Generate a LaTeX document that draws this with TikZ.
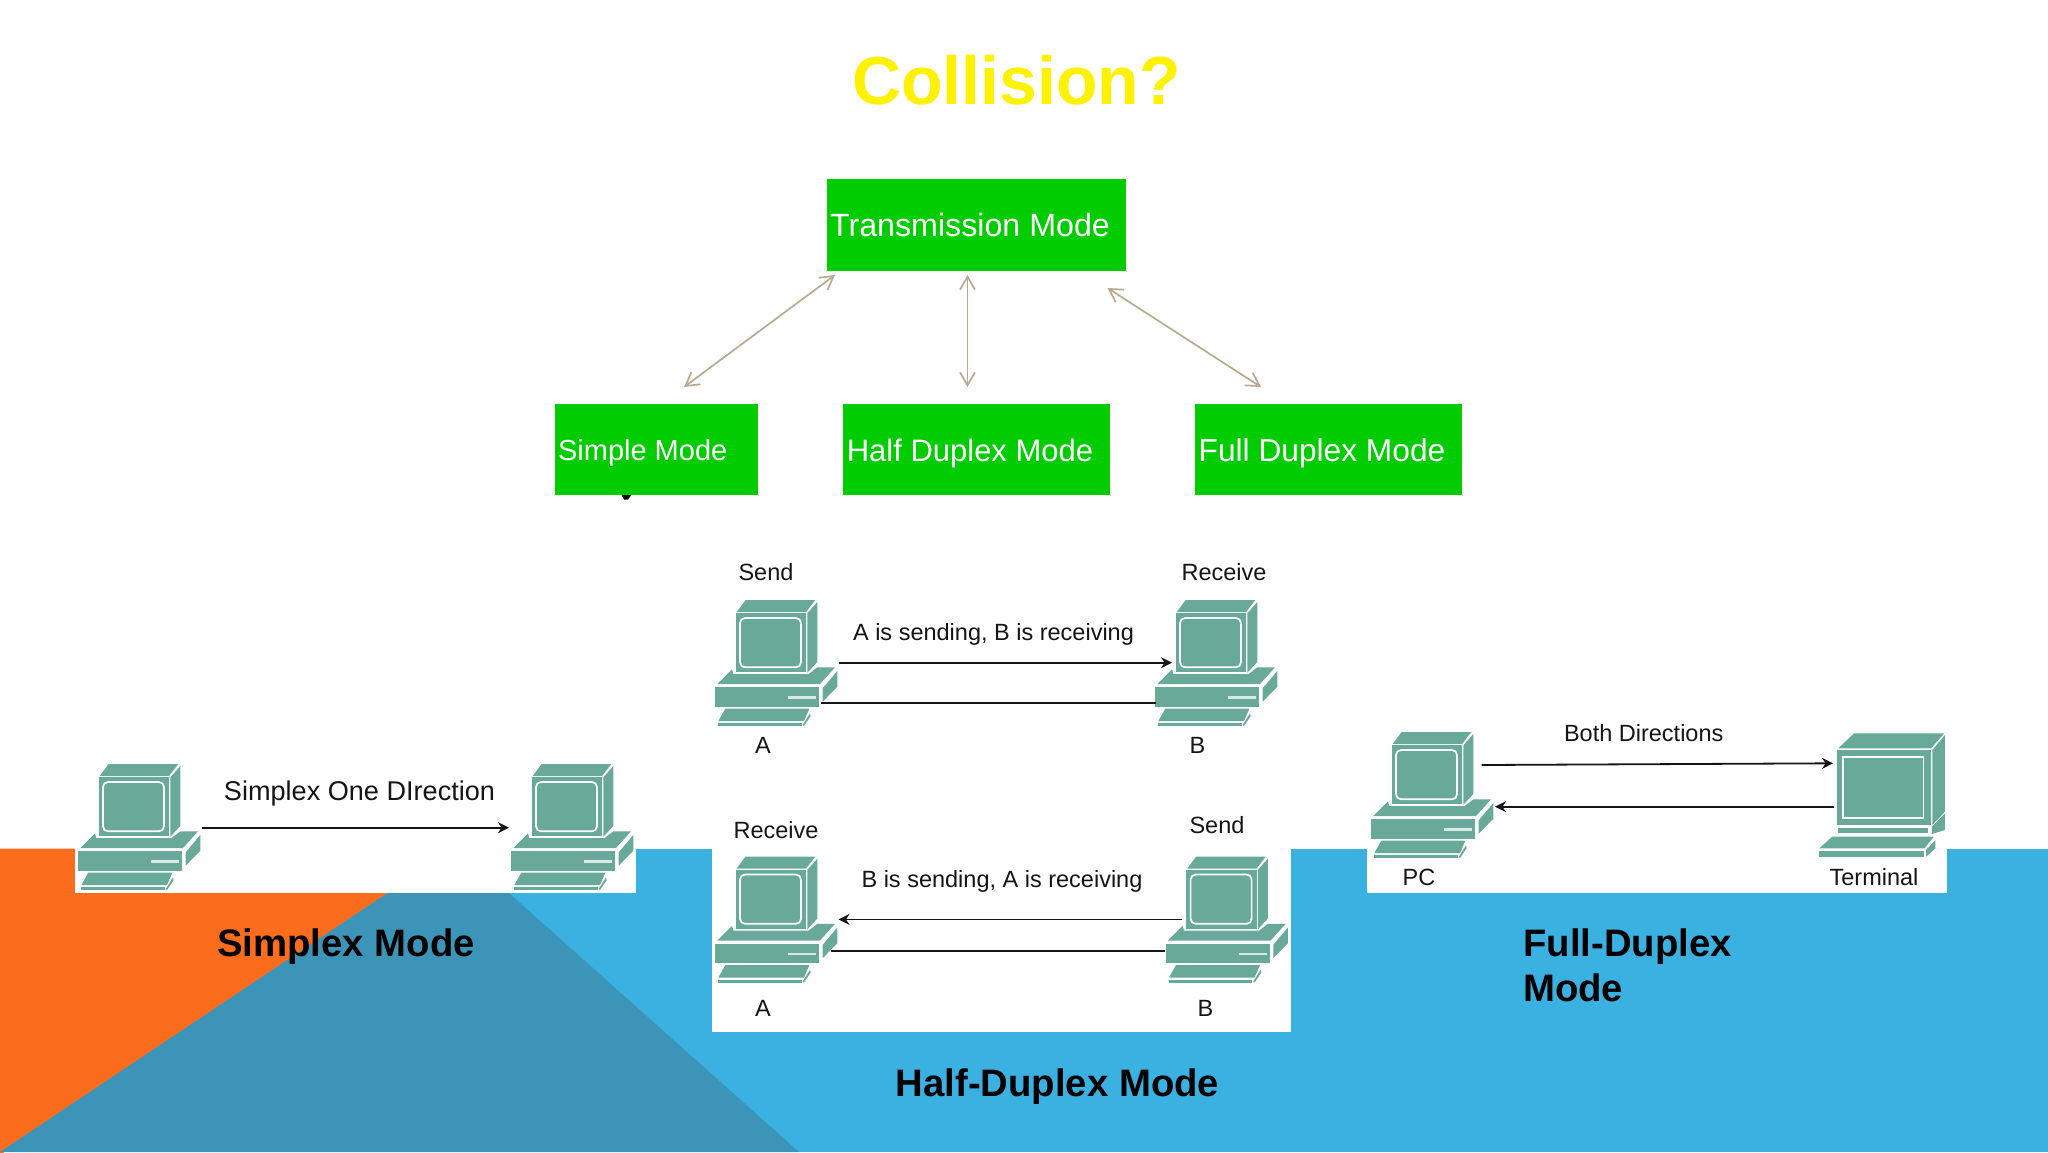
\documentclass[tikz,border=0pt]{standalone}
\usepackage{fontspec}
\setmainfont{Liberation Sans}
\usetikzlibrary{arrows.meta}
\definecolor{mgreen}{HTML}{00CC00}
\definecolor{pcteal}{HTML}{68A99A}
\definecolor{tanline}{HTML}{B8AA92}
\definecolor{skyb}{HTML}{3AB1E1}
\definecolor{darkb}{HTML}{3C95B8}
\definecolor{orng}{HTML}{FB6C1C}
\definecolor{ink}{HTML}{151515}
\tikzset{
  modebox/.style={fill=mgreen,draw=none,inner sep=0pt,text=white},
  lbl/.style={text=ink,inner sep=0pt,font=\fontsize{23.5}{28}\selectfont},
  head/.style={text=black,inner sep=0pt,font=\bfseries\fontsize{38.3}{45}\selectfont},
  tanarrow/.style={draw=tanline,line width=1.7pt,{Straight Barb[length=13pt,width=15pt]}-{Straight Barb[length=13pt,width=15pt]}},
  link/.style={draw=ink,line width=1.8pt},
  linkarrow/.style={link,-{Stealth[length=11pt,width=11pt]}},
  hull/.style={inner sep=0pt,minimum width=122pt,minimum height=126pt}
}
\newcommand{\drawpc}[3]{%
  \begin{scope}[shift={(#2,#3)},x=0.33333pt,y=-0.33333pt]
    \fill[pcteal] (110,66)--(137,30)--(346,30)--(318,66)--cycle;
    \fill[pcteal] (322,70)--(352,36)--(352,216)--(322,248)--cycle;
    \fill[pcteal] (107,70) rectangle (318,246);
    \draw[white,line width=1.7pt,rounded corners=5pt] (120,84) rectangle (303,232);
    \fill[pcteal] (52,282)--(96,238)--(100,252)--(326,252)--(352,232)--(405,232)--(360,282)--cycle;
    \fill[pcteal] (368,295)--(412,243)--(412,290)--(368,335)--cycle;
    \fill[pcteal] (45,292) rectangle (358,350);
    \fill[white!75!pcteal] (265,318) rectangle (348,326);
    \fill[pcteal] (55,393)--(76,356)--(328,356)--(312,393)--cycle;
    \fill[pcteal] (55,400) rectangle (305,408);
    \fill[pcteal] (308,405)--(330,370)--(332,378)--(312,408)--cycle;
  \end{scope}
  \node[hull] (#1) at (#2+76,#3+73) {};%
}
\begin{document}
\begin{tikzpicture}[x=1pt,y=-1pt]
\useasboundingbox (0,0) rectangle (2048,1152);
% slide background
\fill[white] (0,0) rectangle (2048,1152);
\fill[skyb] (0,848.5) rectangle (2048,1152);
\fill[orng] (0,848.5)--(454,848.5)--(0,1155)--cycle;
\fill[darkb] (454,848.5)--(459,848.5)--(799,1152)--(0,1152)--cycle;
% white image panels
\fill[white] (74.6,840) rectangle (636,892.7);
\fill[white] (711.5,840) rectangle (1291,1032);
\fill[white] (1367,840) rectangle (1947,892.7);
% title
\node[inner sep=0pt,text=yellow,font=\bfseries\fontsize{68}{75}\selectfont] (title) at (1016.5,80) {Collision?};
% mode tree
\fill[black] (621,494) -- (632,494) -- (628,499.5) -- (624,499.5) -- cycle;
\node[modebox,minimum width=299pt,minimum height=91.5pt] (tm) at (976.5,225.2) {};
\node[modebox,minimum width=203pt,minimum height=90.7pt] (sm) at (656.5,449.3) {};
\node[modebox,minimum width=267pt,minimum height=90.7pt] (hm) at (976,449.3) {};
\node[modebox,minimum width=267pt,minimum height=90.7pt] (fm) at (1328,449.3) {};
\node[inner sep=0pt,text=white,font=\fontsize{32.2}{36}\selectfont] (tmt) at (970,225) {Transmission Mode};
\node[inner sep=0pt,text=white,font=\fontsize{29}{36}\selectfont] (smt) at (642.7,453) {Simple Mode};
\node[inner sep=0pt,text=white,font=\fontsize{31}{36}\selectfont] (hmt) at (970,453.5) {Half Duplex Mode};
\node[inner sep=0pt,text=white,font=\fontsize{31.7}{36}\selectfont] (fmt) at (1322,453.5) {Full Duplex Mode};
\coordinate (t1) at (835,275);
\coordinate (s1) at (684,387);
\coordinate (t2) at (967.5,275);
\coordinate (h2) at (967.5,387);
\coordinate (t3) at (1107.5,288);
\coordinate (f3) at (1261,387);
\draw[tanarrow] (t1) -- (s1);
\draw[tanarrow] (t2) -- (h2);
\draw[tanarrow] (t3) -- (f3);
% half duplex, upper
\drawpc{pcAu}{700}{590}
\drawpc{pcBu}{1140}{590}
\node[lbl] (sendA) at (766,572) {Send};
\node[lbl] (recvB) at (1224,572) {Receive};
\node[lbl] (abTxt) at (993.5,634.5) {A is sending, B is receiving};
\node[lbl] (labAu) at (763,745.5) {A};
\node[lbl] (labBu) at (1197.5,745.5) {B};
\coordinate (au1) at (838.5,662.7);
\coordinate (bu1) at (1172,662.7);
\coordinate (au2) at (821,702.7);
\coordinate (bu2) at (1156,702.7);
\draw[linkarrow] (au1) -- (bu1);
\draw[link] (au2) -- (bu2);
% half duplex, lower
\drawpc{pcAl}{700}{846.5}
\drawpc{pcBl}{1150.6}{846.5}
\node[lbl] (recvA) at (776,830.5) {Receive};
\node[lbl] (sendB) at (1217,825) {Send};
\node[lbl] (baTxt) at (1002,881.5) {B is sending, A is receiving};
\node[lbl] (labAl) at (763,1008) {A};
\node[lbl] (labBl) at (1205.5,1008) {B};
\coordinate (bl1) at (1182,919.4);
\coordinate (al1) at (838.5,919.4);
\coordinate (al2) at (830.6,951);
\coordinate (bl2) at (1165,951);
\draw[linkarrow] (bl1) -- (al1);
\draw[link] (al2) -- (bl2);
\node[head] (hdHalf) at (1057.5,1087) {Half-Duplex Mode};
% simplex
\drawpc{pcSa}{63}{754}
\drawpc{pcSb}{496}{754}
\node[lbl,font=\fontsize{27.1}{30}\selectfont] (simTxt) at (359.5,793) {Simplex One DIrection};
\coordinate (sa) at (202,827.7);
\coordinate (sb) at (509,827.7);
\draw[linkarrow] (sa) -- (sb);
\node[head] (hdSimp) at (346,947) {Simplex Mode};
% full duplex
\drawpc{pcF}{1356}{722}
\begin{scope}[shift={(1340,700)},x=0.3954pt,y=-0.33333pt]
  \fill[pcteal] (1260,145)--(1300,100)--(1528,100)--(1495,145)--cycle;
  \fill[pcteal] (1498,150)--(1530,105)--(1530,335)--(1498,375)--cycle;
  \fill[pcteal] (1258,150) rectangle (1495,375);
  \draw[white,line width=1.7pt] (1272,172) rectangle (1476,354);
  \fill[pcteal] (1260,385) rectangle (1487,400);
  \fill[pcteal] (1497,380)--(1530,340)--(1530,390)--(1497,402)--cycle;
  \fill[pcteal] (1212,445)--(1245,410)--(1502,410)--(1478,445)--cycle;
  \fill[pcteal] (1212,452) rectangle (1476,472);
  \fill[pcteal] (1482,450)--(1506,420)--(1506,445)--(1482,470)--cycle;
\end{scope}
\node[inner sep=0pt,minimum width=126pt,minimum height=126pt] (term) at (1885,795) {};
\node[lbl] (bothTxt) at (1643.7,733) {Both Directions};
\node[lbl] (labPC) at (1419,877) {PC};
\node[lbl] (labTm) at (1874,877) {Terminal};
\coordinate (f1a) at (1481.6,765);
\coordinate (f1b) at (1833,763.3);
\coordinate (f2a) at (1834,806.7);
\coordinate (f2b) at (1495,806.7);
\draw[linkarrow] (f1a) -- (f1b);
\draw[linkarrow] (f2a) -- (f2b);
\node[head,align=left,anchor=north west] (hdFull) at (1523,929) {Full-Duplex\\Mode};
\end{tikzpicture}
\end{document}
